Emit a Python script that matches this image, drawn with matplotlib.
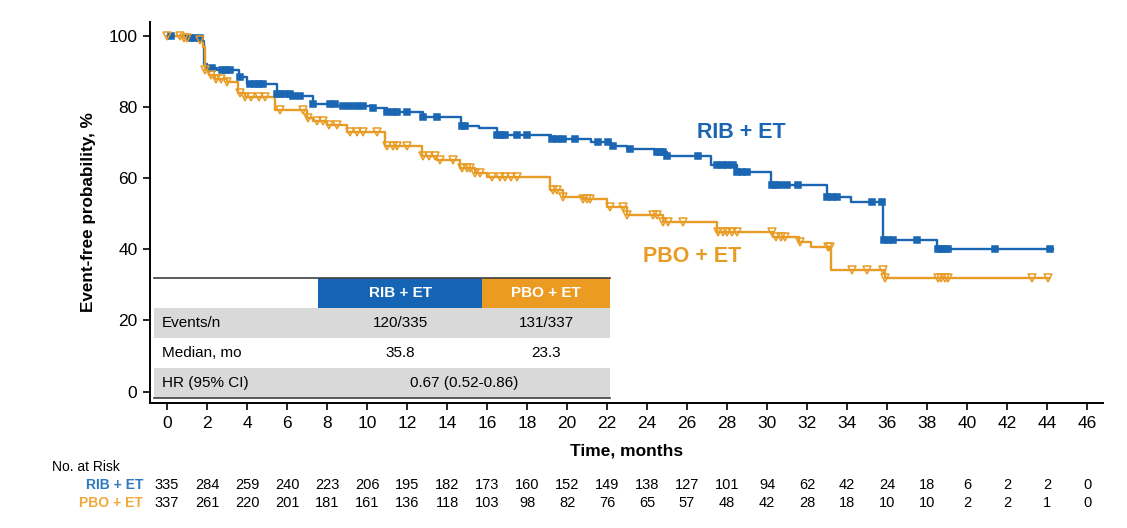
import numpy as np
import matplotlib
matplotlib.use("Agg")
import matplotlib.pyplot as plt
from matplotlib.transforms import blended_transform_factory
from matplotlib.patches import Rectangle

plt.rcParams['font.family'] = ['Liberation Sans', 'DejaVu Sans']

# ---------------- data ----------------
rib_times = [0, 1.0, 1.75, 1.85, 2.0, 2.5, 3.6, 4.0, 5.5, 6.3, 7.3, 8.5, 10.3, 11.0,
             12.8, 14.7, 15.6, 16.5, 19.2, 21.2, 22.2, 23.0, 24.4, 25.0, 27.2, 28.5,
             30.2, 33.0, 34.2, 35.8, 38.5]
rib_surv = [100, 99.4, 98.5, 92.0, 91.0, 90.3, 88.5, 86.6, 83.6, 83.0, 80.8, 80.3, 79.6, 78.6,
            77.3, 74.8, 74.0, 72.0, 70.9, 70.2, 69.0, 68.3, 67.4, 66.3, 63.6, 61.8,
            58.2, 54.6, 53.2, 42.7, 40.1]
rib_end = 44.3
rib_censor = [0.2, 1.15, 1.4, 1.65, 2.25, 2.75, 2.95, 3.15, 3.65, 4.15, 4.4, 4.6, 4.8, 5.5,
              5.65, 5.9, 6.15, 6.3, 6.65, 7.3, 8.15, 8.4, 8.8, 9.15, 9.5, 9.8, 10.3, 11.0,
              11.3, 11.5, 12.0, 12.8, 13.5, 14.75, 14.9, 16.5, 16.7, 16.9, 17.5, 18.0,
              19.25, 19.5, 19.8, 20.4, 21.55, 22.05, 22.3, 23.15, 24.5, 24.65, 24.8, 25.0,
              26.55, 27.5, 27.75, 28.0, 28.3, 28.5, 28.75, 29.0, 30.25, 30.4, 30.65, 31.0,
              31.55, 33.0, 33.25, 33.5, 35.25, 35.75, 35.85, 36.05, 36.3, 37.5, 38.55,
              38.7, 38.9, 39.05, 41.4, 44.15]

pbo_times = [0, 0.8, 1.5, 1.8, 1.9, 2.1, 2.4, 3.0, 3.55, 3.9, 5.4, 7.0, 7.3, 8.0, 9.0,
             10.9, 12.75, 13.5, 14.65, 15.4, 16.0, 19.15, 19.8, 20.8, 22.0, 23.0, 24.8,
             27.5, 30.3, 31.6, 32.2, 33.2, 35.9]
pbo_surv = [100, 99.5, 98.7, 97.0, 90.5, 89.0, 87.8, 87.0, 84.0, 82.8, 79.2, 77.0, 76.0, 75.0, 73.0,
            69.0, 66.2, 65.2, 62.9, 61.5, 60.4, 56.8, 54.8, 54.2, 51.8, 49.7, 47.7,
            44.9, 43.5, 42.1, 40.7, 34.2, 31.9]
pbo_end = 44.1
pbo_censor = [0.0, 0.65, 0.85, 1.0, 1.65, 1.9, 2.2, 2.45, 2.7, 3.0, 3.65, 3.9, 4.2, 4.6, 4.9,
              5.65, 6.8, 7.05, 7.5, 7.8, 8.1, 8.5, 9.15, 9.5, 9.8, 10.5, 11.0, 11.3, 11.5,
              12.0, 12.8, 13.1, 13.4, 13.65, 14.3, 14.75, 15.0, 15.15, 15.4, 15.65, 16.25,
              16.65, 16.9, 17.2, 17.5, 19.3, 19.5, 19.8, 20.8, 21.0, 21.15, 22.15, 22.8,
              23.0, 24.3, 24.5, 24.8, 25.05, 25.8, 27.55, 27.8, 28.0, 28.25, 28.5, 30.25,
              30.45, 30.7, 30.9, 31.65, 33.05, 33.15, 34.25, 35.0, 35.8, 35.9, 38.55, 38.7,
              38.9, 39.05, 43.25, 44.05]

risk_times = list(range(0, 47, 2))
rib_risk = [335, 284, 259, 240, 223, 206, 195, 182, 173, 160, 152, 149, 138, 127, 101, 94,
            62, 42, 24, 18, 6, 2, 2, 0]
pbo_risk = [337, 261, 220, 201, 181, 161, 136, 118, 103, 98, 82, 76, 65, 57, 48, 42, 28,
            18, 10, 10, 2, 2, 1, 0]

table_cols = ["RIB + ET", "PBO + ET"]
table_rows = ["Events/n", "Median, mo", "HR (95% CI)"]
events_n = ["120/335", "131/337"]
median_mo = ["35.8", "23.3"]
hr_text = "0.67 (0.52-0.86)"

BLUE = "#1a66b3"
ORANGE = "#e89c25"
BLUE_HDR = "#1565b4"
ORANGE_HDR = "#ec9b22"
GRAY = "#d9d9d9"

# ---------------- figure ----------------
fig = plt.figure(figsize=(11.27, 5.28), dpi=100)
ax = fig.add_axes([150/1127, 1-403/528, (1103-150)/1127, (403-22)/528])
ax.set_xlim(-0.85, 46.8)
ax.set_ylim(-3.2, 103.9)


def step_value(times, surv, t):
    idx = np.searchsorted(times, t, side='right') - 1
    return np.asarray(surv)[idx]


for times, surv, end, cens, col, mk, mfc in [
        (rib_times, rib_surv, rib_end, rib_censor, BLUE, 's', BLUE),
        (pbo_times, pbo_surv, pbo_end, pbo_censor, ORANGE, 'v', 'none')]:
    tx = list(times) + [end]
    sy = list(surv) + [surv[-1]]
    ax.step(tx, sy, where='post', color=col, lw=1.7, zorder=3)
    cy = step_value(np.array(times), surv, np.array(cens))
    ax.plot(cens, cy, linestyle='none', marker=mk, markersize=5.5 if mk == 'v' else 4.2,
            markerfacecolor=mfc, markeredgecolor=col, markeredgewidth=1.1, zorder=4)

for s in ['top', 'right']:
    ax.spines[s].set_visible(False)
for s in ['left', 'bottom']:
    ax.spines[s].set_linewidth(1.4)
ax.set_xticks(risk_times)
ax.set_yticks([0, 20, 40, 60, 80, 100])
ax.tick_params(axis='both', direction='out', length=5, width=1.2, labelsize=12.5, pad=4)
ax.set_xlabel("Time, months", fontsize=12.5, fontweight='bold', labelpad=9)
ax.set_ylabel("Event-free probability, %", fontsize=12.3, fontweight='bold', labelpad=9)

ax.text(26.5, 72.7, "RIB + ET", color=BLUE, fontsize=15.5, fontweight='bold', va='center', ha='left')
ax.text(23.8, 37.9, "PBO + ET", color=ORANGE, fontsize=15.5, fontweight='bold', va='center', ha='left')

# ---------------- inset table ----------------
x0, x1, x2, x3 = -0.67, 7.55, 15.75, 22.15
ytop, yh, yr1, yr2, ybot = 31.9, 23.45, 15.1, 6.66, -1.77
ax.add_patch(Rectangle((x0, yh), x1 - x0, ytop - yh, facecolor='white', edgecolor='none', zorder=5))
ax.add_patch(Rectangle((x1, yh), x2 - x1, ytop - yh, facecolor=BLUE_HDR, edgecolor='none', zorder=5))
ax.add_patch(Rectangle((x2, yh), x3 - x2, ytop - yh, facecolor=ORANGE_HDR, edgecolor='none', zorder=5))
ax.add_patch(Rectangle((x0, yr1), x3 - x0, yh - yr1, facecolor=GRAY, edgecolor='none', zorder=5))
ax.add_patch(Rectangle((x0, yr2), x3 - x0, yr1 - yr2, facecolor='white', edgecolor='none', zorder=5))
ax.add_patch(Rectangle((x0, ybot), x3 - x0, yr2 - ybot, facecolor=GRAY, edgecolor='none', zorder=5))
ax.plot([x0, x3], [ytop, ytop], color='#404040', lw=1.2, zorder=6)
ax.plot([x0, x3], [ybot, ybot], color='#404040', lw=1.2, zorder=6)

c1 = (x1 + x2) / 2
c2 = (x2 + x3) / 2
tfs = 11
for cx, lab in zip([c1, c2], table_cols):
    ax.text(cx, (ytop + yh) / 2, lab, color='white', fontweight='bold', fontsize=tfs,
            ha='center', va='center', zorder=7)
rows_y = [(yh + yr1) / 2, (yr1 + yr2) / 2, (yr2 + ybot) / 2]
for ry, lab in zip(rows_y, table_rows):
    ax.text(x0 + 0.4, ry, lab, fontsize=tfs, ha='left', va='center', zorder=7)
for cx, v in zip([c1, c2], events_n):
    ax.text(cx, rows_y[0], v, fontsize=tfs, ha='center', va='center', zorder=7)
for cx, v in zip([c1, c2], median_mo):
    ax.text(cx, rows_y[1], v, fontsize=tfs, ha='center', va='center', zorder=7)
ax.text((x1 + x3) / 2, rows_y[2], hr_text, fontsize=tfs, ha='center', va='center', zorder=7)

# ---------------- number at risk ----------------
tr = blended_transform_factory(ax.transData, fig.transFigure)
fig.text(52/1127, 1-467/528, "No. at Risk", fontsize=10, ha='left', va='center')
fig.text(143/1127, 1-485/528, "RIB + ET", fontsize=10, ha='right', va='center',
         color="#2e78c0", fontweight='bold')
fig.text(143/1127, 1-503/528, "PBO + ET", fontsize=10, ha='right', va='center',
         color="#f0a838", fontweight='bold')
for t, a, b in zip(risk_times, rib_risk, pbo_risk):
    ax.text(t, 1-485/528, str(a), transform=tr, fontsize=10.5, ha='center', va='center', clip_on=False)
    ax.text(t, 1-503/528, str(b), transform=tr, fontsize=10.5, ha='center', va='center', clip_on=False)

fig.savefig("out.png", dpi=100)
